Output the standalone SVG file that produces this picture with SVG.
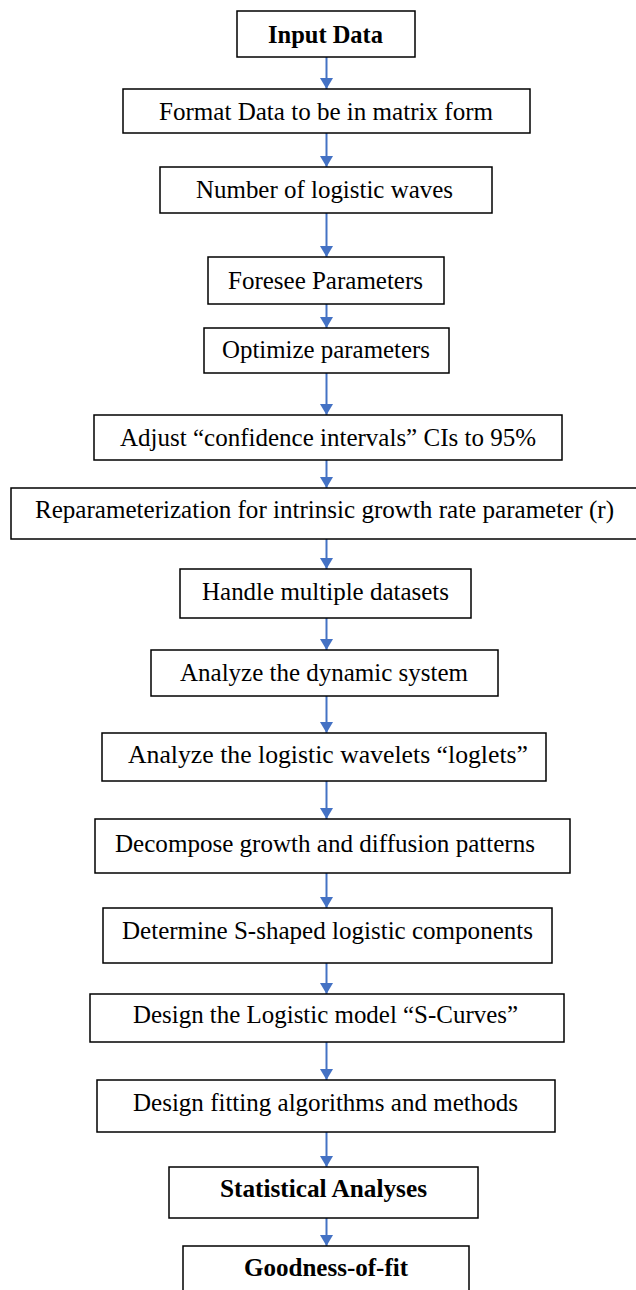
<svg xmlns="http://www.w3.org/2000/svg" width="636" height="1290" viewBox="0 0 636 1290">
<defs>
<style>
.box{fill:#fff;stroke:#000;stroke-width:1.5}
.t{font-family:"Liberation Serif","Times New Roman",serif;font-size:25px;fill:#000;text-anchor:middle}
.b{font-weight:bold}
.c{stroke:#4472C4;stroke-width:2;fill:none;marker-end:url(#ah)}
</style>
<marker id="ah" markerWidth="5.5" markerHeight="6.5" refX="5.5" refY="3.25" orient="auto" markerUnits="strokeWidth">
<path d="M0,0 L5.5,3.25 L0,6.5 Z" fill="#4472C4"/>
</marker>
</defs>
<rect width="636" height="1290" fill="#fff"/>
<g id="connectors">
<line class="c" x1="326.5" y1="57" x2="326.5" y2="89"/>
<line class="c" x1="326.5" y1="133" x2="326.5" y2="167"/>
<line class="c" x1="326.5" y1="213" x2="326.5" y2="257"/>
<line class="c" x1="326.5" y1="304" x2="326.5" y2="328"/>
<line class="c" x1="326.5" y1="373" x2="326.5" y2="415"/>
<line class="c" x1="326.5" y1="460" x2="326.5" y2="488"/>
<line class="c" x1="326.5" y1="539" x2="326.5" y2="569"/>
<line class="c" x1="326.5" y1="618" x2="326.5" y2="650"/>
<line class="c" x1="326.5" y1="696" x2="326.5" y2="733"/>
<line class="c" x1="326.5" y1="781" x2="326.5" y2="819"/>
<line class="c" x1="326.5" y1="873" x2="326.5" y2="908"/>
<line class="c" x1="326.5" y1="963" x2="326.5" y2="994"/>
<line class="c" x1="326.5" y1="1042" x2="326.5" y2="1080"/>
<line class="c" x1="326.5" y1="1132" x2="326.5" y2="1167"/>
<line class="c" x1="326.5" y1="1218" x2="326.5" y2="1246"/>
</g>
<g id="n1"><rect class="box" x="237" y="11" width="178" height="46"/><text class="t b" x="325.5" y="43" textLength="115" lengthAdjust="spacingAndGlyphs">Input Data</text></g>
<g id="n2"><rect class="box" x="123" y="89" width="407" height="44"/><text class="t" x="326" y="120" textLength="334" lengthAdjust="spacingAndGlyphs">Format Data to be in matrix form</text></g>
<g id="n3"><rect class="box" x="160" y="167" width="332" height="46"/><text class="t" x="324.5" y="198" textLength="257" lengthAdjust="spacingAndGlyphs">Number of logistic waves</text></g>
<g id="n4"><rect class="box" x="208" y="257" width="236" height="47"/><text class="t" x="325.5" y="289" textLength="195" lengthAdjust="spacingAndGlyphs">Foresee Parameters</text></g>
<g id="n5"><rect class="box" x="204" y="328" width="245" height="45"/><text class="t" x="326" y="358" textLength="208" lengthAdjust="spacingAndGlyphs">Optimize parameters</text></g>
<g id="n6"><rect class="box" x="94" y="415" width="468" height="45"/><text class="t" x="328" y="446" textLength="416" lengthAdjust="spacingAndGlyphs">Adjust “confidence intervals” CIs to 95%</text></g>
<g id="n7"><rect class="box" x="11" y="488" width="630" height="51"/><text class="t" x="324.5" y="518" textLength="579" lengthAdjust="spacingAndGlyphs">Reparameterization for intrinsic growth rate parameter (r)</text></g>
<g id="n8"><rect class="box" x="180" y="569" width="291" height="49"/><text class="t" x="325.5" y="600" textLength="247" lengthAdjust="spacingAndGlyphs">Handle multiple datasets</text></g>
<g id="n9"><rect class="box" x="151" y="650" width="347" height="46"/><text class="t" x="324" y="681" textLength="288" lengthAdjust="spacingAndGlyphs">Analyze the dynamic system</text></g>
<g id="n10"><rect class="box" x="102" y="733" width="444" height="48"/><text class="t" x="328" y="763" textLength="400" lengthAdjust="spacingAndGlyphs">Analyze the logistic wavelets “loglets”</text></g>
<g id="n11"><rect class="box" x="95" y="819" width="475" height="54"/><text class="t" x="325" y="852" textLength="420" lengthAdjust="spacingAndGlyphs">Decompose growth and diffusion patterns</text></g>
<g id="n12"><rect class="box" x="103" y="908" width="449" height="55"/><text class="t" x="327.5" y="939" textLength="411" lengthAdjust="spacingAndGlyphs">Determine S-shaped logistic components</text></g>
<g id="n13"><rect class="box" x="90" y="994" width="474" height="48"/><text class="t" x="325.5" y="1023" textLength="385" lengthAdjust="spacingAndGlyphs">Design the Logistic model “S-Curves”</text></g>
<g id="n14"><rect class="box" x="97" y="1080" width="458" height="52"/><text class="t" x="325.5" y="1111" textLength="385" lengthAdjust="spacingAndGlyphs">Design fitting algorithms and methods</text></g>
<g id="n15"><rect class="box" x="169" y="1167" width="309" height="51"/><text class="t b" x="323.5" y="1197" textLength="207" lengthAdjust="spacingAndGlyphs">Statistical Analyses</text></g>
<g id="n16"><rect class="box" x="183" y="1246" width="286" height="60"/><text class="t b" x="326" y="1276" textLength="164" lengthAdjust="spacingAndGlyphs">Goodness-of-fit</text></g>
</svg>
